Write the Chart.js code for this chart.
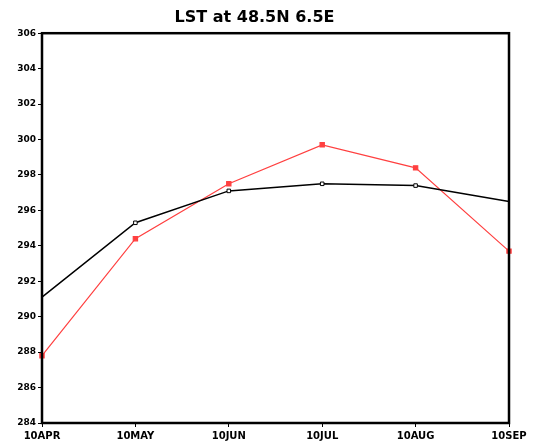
<!DOCTYPE html>
<html>
<head>
<meta charset="utf-8">
<script src="https://cdn.jsdelivr.net/npm/chart.js@4.4.0/dist/chart.umd.min.js"></script>
<style>
  html, body { margin: 0; padding: 0; background: #fff; }
  #wrap { width: 546px; height: 446px; }
</style>
</head>
<body>
<div id="wrap"><canvas id="myChart" width="546" height="446"></canvas></div>
<script>
const months = ['10APR', '10MAY', '10JUN', '10JUL', '10AUG', '10SEP'];
const blackSeries = [291.1, 295.3, 297.1, 297.5, 297.4, 296.5];
const redSeries = [287.8, 294.4, 297.5, 299.7, 298.4, 293.7];
const yTicks = [284, 286, 288, 290, 292, 294, 296, 298, 300, 302, 304, 306];

// box around the plot area
const frame = {
    id: 'frame',
    afterDraw(chart) {
        const a = chart.chartArea;
        const c = chart.ctx;
        c.save();
        c.strokeStyle = '#000';
        c.lineWidth = 2.5;
        c.strokeRect(a.left, a.top, a.right - a.left, a.bottom - a.top);
        c.restore();
    }
};

const ctx = document.getElementById('myChart').getContext('2d');

const myChart = new Chart(ctx, {
    type: 'line',
    data: {
        labels: months,
        datasets: [{
            data: blackSeries,
            borderColor: '#000',
            borderWidth: 1.5,
            pointStyle: 'rect',
            pointRadius: [0, 2.5, 2.5, 2.5, 2.5, 0],
            pointBackgroundColor: '#fff',
            pointBorderColor: '#000',
            pointBorderWidth: 1
        }, {
            data: redSeries,
            borderColor: '#ff4040',
            borderWidth: 1.2,
            pointStyle: 'rect',
            pointRadius: 3,
            pointBackgroundColor: '#ff4040',
            pointBorderColor: '#ff4040'
        }]
    },
    options: {
        responsive: false,
        animation: false,
        layout: { padding: { left: 0, right: 37, bottom: 0 } },
        plugins: {
            legend: { display: false },
            tooltip: { enabled: false },
            title: {
                display: true,
                text: 'LST at 48.5N 6.5E',
                color: '#000',
                font: { family: 'DejaVu Sans', size: 16, weight: 'bold' },
                padding: { top: 8, bottom: 6 }
            }
        },
        scales: {
            x: {
                offset: false,
                grid: { drawOnChartArea: false, drawTicks: true, tickLength: 4, color: '#000' },
                border: { display: false },
                ticks: {
                    color: '#000',
                    font: { family: 'DejaVu Sans', size: 10, weight: 'bold' },
                    maxRotation: 0,
                    autoSkip: false,
                    padding: 3
                },
                afterFit(scale) { scale.height = 23; }
            },
            y: {
                min: 284,
                max: 306,
                afterBuildTicks(scale) { scale.ticks = yTicks.map(v => ({ value: v })); },
                grid: { drawOnChartArea: false, drawTicks: true, tickLength: 4, color: '#000' },
                border: { display: false },
                ticks: {
                    color: '#000',
                    font: { family: 'DejaVu Sans', size: 9, weight: 'bold' },
                    padding: 2
                },
                afterFit(scale) { scale.width = 42; }
            }
        }
    },
    plugins: [frame]
});
</script>
</body>
</html>
